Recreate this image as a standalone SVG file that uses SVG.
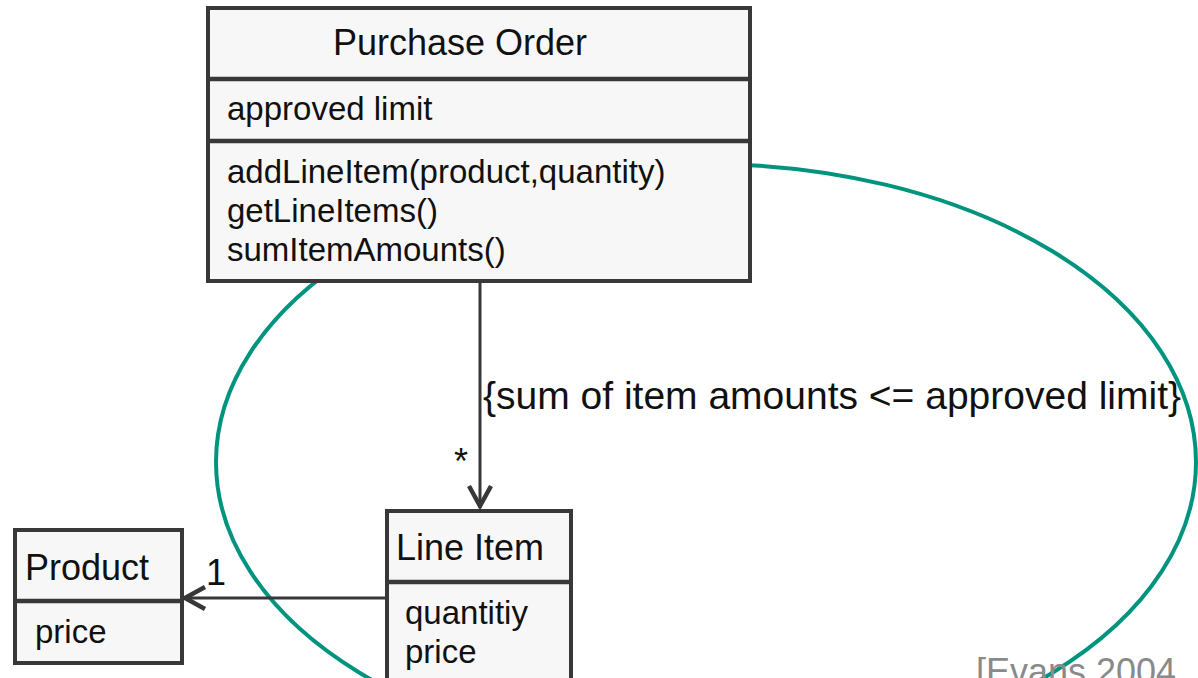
<svg xmlns="http://www.w3.org/2000/svg" width="1198" height="678" viewBox="0 0 1198 678">
<style>
.box{fill:#f7f7f7;stroke:#383838;stroke-width:4}
.div{stroke:#383838;stroke-width:4.5}
.t{font-family:"Liberation Sans",Arial,sans-serif;fill:#111}
.title{font-size:36px}
.body{font-size:33px}
.conn{stroke:#383838;stroke-width:3;fill:none}
.head{stroke:#383838;stroke-width:4.5;fill:none;stroke-linejoin:miter;stroke-linecap:butt}
</style>
<rect width="1198" height="678" fill="#ffffff"/>
<ellipse id="constraint-loop" cx="706" cy="462" rx="490" ry="298" fill="none" stroke="#00947e" stroke-width="4"/>
<g id="connectors">
<line class="conn" x1="480" y1="282" x2="480" y2="506"/>
<polyline class="head" points="469,486 480,506 491,486"/>
<line class="conn" x1="387" y1="598" x2="185" y2="598"/>
<polyline class="head" points="205,587 185,598 205,609"/>
<text class="t" x="483" y="409" font-size="39">{sum of item amounts &lt;= approved limit}</text>
<text class="t" x="454" y="474" font-size="36">*</text>
<text class="t" x="206" y="585" font-size="36">1</text>
</g>
<g id="purchase-order">
<rect class="box" x="208" y="8" width="542" height="273"/>
<line class="div" x1="208" y1="79" x2="750" y2="79"/>
<line class="div" x1="208" y1="141" x2="750" y2="141"/>
<text class="t title" x="460" y="55" text-anchor="middle">Purchase Order</text>
<text class="t body" x="227" y="120">approved limit</text>
<text class="t body" x="227" y="183">addLineItem(product,quantity)</text>
<text class="t body" x="227" y="222">getLineItems()</text>
<text class="t body" x="227" y="261">sumItemAmounts()</text>
</g>
<g id="line-item">
<rect class="box" x="387" y="511" width="184" height="190"/>
<line class="div" x1="387" y1="582" x2="571" y2="582"/>
<text class="t title" x="396" y="560">Line Item</text>
<text class="t body" x="405" y="624">quantitiy</text>
<text class="t body" x="405" y="663">price</text>
</g>
<g id="product">
<rect class="box" x="15" y="530" width="167" height="133"/>
<line class="div" x1="15" y1="601" x2="182" y2="601"/>
<text class="t title" x="25" y="580">Product</text>
<text class="t body" x="35" y="643">price</text>
</g>
<text class="t" x="976" y="684" font-size="36" style="fill:#8a8a8a">[Evans 2004</text>
</svg>
